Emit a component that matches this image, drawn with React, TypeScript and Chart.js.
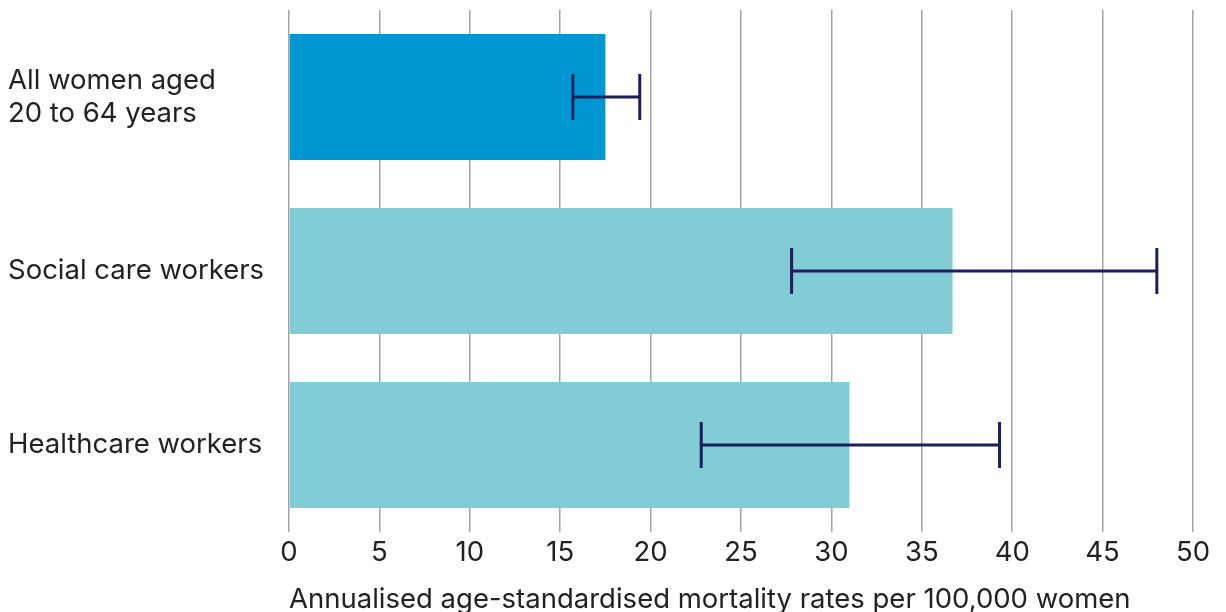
import React, { useEffect, useRef } from "react";
import { Chart, registerables } from "chart.js";

Chart.register(...registerables);

const categories: (string | string[])[] = [
  ["All women aged", "20 to 64 years"],
  "Social care workers",
  "Healthcare workers",
];
const rates = [17.5, 36.7, 31.0];
const lowerCI = [15.7, 27.8, 22.8];
const upperCI = [19.4, 48.0, 39.3];
const barColors = ["#0096d1", "#82ccd6", "#82ccd6"];
const xTitle = "Annualised age-standardised mortality rates per 100,000 women";

const FONT = "Inter, 'Open Sans', sans-serif";
const FS = 27.5;

const errorBarPlugin = {
  id: "errorBars",
  afterDatasetsDraw(chart: any) {
    const ctx = chart.ctx;
    const xScale = chart.scales.x;
    const meta = chart.getDatasetMeta(0);
    ctx.save();
    ctx.strokeStyle = "#1b1f5c";
    ctx.lineWidth = 3;
    meta.data.forEach((bar: any, i: number) => {
      const y = bar.y;
      const x1 = xScale.getPixelForValue(lowerCI[i]);
      const x2 = xScale.getPixelForValue(upperCI[i]);
      const h = 23;
      ctx.beginPath();
      ctx.moveTo(x1, y);
      ctx.lineTo(x2, y);
      ctx.moveTo(x1, y - h);
      ctx.lineTo(x1, y + h);
      ctx.moveTo(x2, y - h);
      ctx.lineTo(x2, y + h);
      ctx.stroke();
    });
    ctx.restore();
  },
};

export default function App() {
  const ref = useRef<HTMLCanvasElement | null>(null);
  useEffect(() => {
    document.body.style.margin = "0";
    const chart = new Chart(ref.current!, {
      type: "bar",
      data: {
        labels: categories,
        datasets: [
          {
            data: rates,
            backgroundColor: barColors,
            borderWidth: 0,
            categoryPercentage: 1,
            barPercentage: 0.725,
          },
        ],
      },
      options: {
        indexAxis: "y",
        animation: false,
        responsive: false,
        maintainAspectRatio: false,
        layout: { padding: { left: 8, right: 33, top: 10, bottom: 0 } },
        plugins: {
          legend: { display: false },
          tooltip: { enabled: false },
        },
        scales: {
          x: {
            min: 0,
            max: 50,
            ticks: {
              stepSize: 5,
              color: "#222",
              font: { family: FONT, size: FS },
              padding: 4,
            },
            grid: { color: "#a3a3a3", lineWidth: 1.5, drawTicks: false },
            border: { display: false },
            title: {
              display: true,
              text: xTitle,
              align: "start",
              color: "#222",
              font: { family: FONT, size: FS },
              padding: { top: 10, bottom: -4 },
            },
          },
          y: {
            grid: { display: false },
            border: { display: false },
            ticks: {
              crossAlign: "far",
              color: "#222",
              font: { family: FONT, size: FS },
            },
            afterFit(scale: any) {
              scale.width = 281;
              scale.paddingTop = 0;
              scale.paddingBottom = 0;
            },
          },
        },
      },
      plugins: [errorBarPlugin],
    });
    return () => chart.destroy();
  }, []);
  return <canvas ref={ref} width={1226} height={612} style={{ display: "block" }} />;
}
